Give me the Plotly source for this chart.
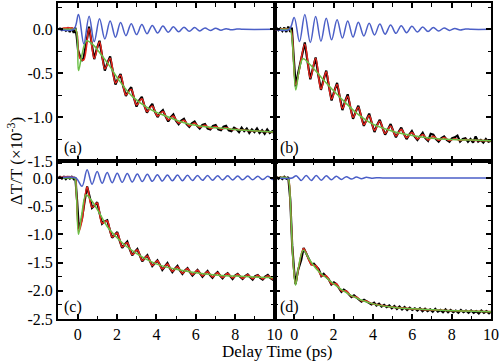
import plotly.graph_objects as go

SERIF = "Liberation Serif, Times New Roman, serif"
C_BLUE = "#4b5fc7"
C_RED = "#e8261e"
C_GREEN = "#6abf45"

# ---------------- panel (a) ----------------
t_green_a = [-1.0, -0.3, -0.1, 0.04, 0.2, 0.45, 0.8, 1.1, 1.6, 2.1, 2.8, 3.6, 4.5, 5.5, 6.5, 7.5, 8.5, 10.0]
green_a = [0.0, 0.0, 0.0, -0.47, -0.31, -0.13, -0.18, -0.26, -0.41, -0.58, -0.77, -0.90, -0.99, -1.07, -1.11, -1.13, -1.15, -1.17]

t_blue_a = [-1.0, -0.2, 0.04, 0.31, 0.58, 0.84, 1.11, 1.38, 1.65, 1.92, 2.18, 2.45, 2.72, 2.99, 3.26, 3.52,
            3.79, 4.06, 4.33, 4.60, 4.86, 5.13, 5.40, 5.67, 5.94, 6.20, 6.47, 6.74, 7.01, 7.28, 7.54, 7.81,
            8.08, 8.4, 10.0]
blue_a = [0.0, 0.0, 0.17, -0.165, 0.15, -0.14, 0.12, -0.11, 0.095, -0.09, 0.078, -0.072, 0.065, -0.06, 0.054, -0.05,
          0.045, -0.042, 0.037, -0.034, 0.03, -0.028, 0.025, -0.023, 0.02, -0.018, 0.016, -0.014, 0.012, -0.01, 0.008, -0.006,
          0.004, 0.0, 0.0]

t_red_a = [-1.0, -0.12, 0.02, 0.12, 0.30, 0.58, 0.84, 1.11, 1.38, 1.65, 1.92, 2.18, 2.45, 2.72, 2.99, 3.26, 3.52,
           3.79, 4.06, 4.33, 4.60, 4.86, 5.13, 5.40, 5.67, 5.94, 6.20, 6.47, 6.74, 7.01, 7.28, 7.54, 7.81, 8.08, 8.5, 10.0]
red_a = [0.0, 0.0, -0.22, -0.33, -0.35, 0.01, -0.33, -0.145, -0.45, -0.33, -0.61, -0.524, -0.747, -0.683, -0.861, -0.791, -0.937,
         -0.874, -0.988, -0.936, -1.032, -0.989, -1.068, -1.037, -1.10, -1.068, -1.116, -1.093, -1.129, -1.108, -1.136, -1.123,
         -1.142, -1.138, -1.15, -1.17]

t_black_a = [-1.0, -0.9, -0.8, -0.7, -0.6, -0.5, -0.4, -0.3, -0.2, -0.12,
             -0.05, 0.02, 0.12, 0.21, 0.30, 0.44, 0.58, 0.71, 0.84, 0.975,
             1.11, 1.245, 1.38, 1.515, 1.65, 1.785, 1.92, 2.05, 2.18, 2.315,
             2.45, 2.585, 2.72, 2.855, 2.99, 3.125, 3.26, 3.39, 3.52, 3.655,
             3.79, 3.925, 4.06, 4.195, 4.33, 4.465, 4.60, 4.73, 4.86, 4.995,
             5.13, 5.265, 5.40, 5.535, 5.67, 5.805, 5.94, 6.07, 6.20, 6.335,
             6.47, 6.605, 6.74, 6.875, 7.01, 7.145, 7.28, 7.41, 7.54, 7.675,
             7.81, 7.945, 8.08, 8.2, 8.33, 8.46, 8.59, 8.72, 8.85, 8.98,
             9.11, 9.24, 9.37, 9.5, 9.63, 9.76, 9.89, 10.0]
black_a = [0.0, 0.01, -0.01, 0.005, -0.015, 0.01, -0.03, 0.015, -0.04, 0.02,
           -0.08, -0.24, -0.31, -0.36, -0.33, -0.16, 0.03, -0.16, -0.34, -0.22,
           -0.13, -0.31, -0.47, -0.38, -0.31, -0.48, -0.63, -0.56, -0.51, -0.65,
           -0.76, -0.70, -0.66, -0.78, -0.88, -0.81, -0.77, -0.87, -0.95, -0.89,
           -0.85, -0.94, -1.00, -0.95, -0.92, -0.99, -1.05, -1.00, -0.97, -1.04,
           -1.08, -1.04, -1.02, -1.08, -1.11, -1.07, -1.05, -1.10, -1.13, -1.09,
           -1.08, -1.13, -1.14, -1.10, -1.09, -1.14, -1.15, -1.11, -1.10, -1.15,
           -1.16, -1.12, -1.14, -1.17, -1.12, -1.16, -1.13, -1.18, -1.14, -1.17,
           -1.13, -1.18, -1.15, -1.19, -1.14, -1.18, -1.16, -1.19]

# ---------------- panel (b) ----------------
t_green_b = [-1.0, -0.3, -0.2, 0.08, 0.25, 0.45, 0.8, 1.5, 2.4, 3.2, 4.0, 5.0, 6.0, 7.0, 8.0, 9.0, 10.0]
green_b = [0.0, 0.0, 0.0, -0.69, -0.47, -0.335, -0.40, -0.58, -0.79, -0.96, -1.08, -1.16, -1.21, -1.24, -1.255, -1.262, -1.268]

t_blue_b = [-1.0, -0.25, 0.00, 0.27, 0.54, 0.82, 1.09, 1.36, 1.63, 1.90, 2.18, 2.45, 2.72, 2.99, 3.26, 3.54, 3.81,
            4.08, 4.35, 4.62, 4.90, 5.17, 5.44, 5.71, 5.98, 6.26, 6.53, 6.80, 7.07, 7.34, 7.62, 7.89, 8.16, 8.43,
            8.70, 9.0, 10.0]
blue_b = [0.0, 0.0, 0.135, -0.14, 0.17, -0.15, 0.145, -0.135, 0.125, -0.12, 0.11, -0.10, 0.095, -0.088, 0.082, -0.076, 0.07,
          -0.065, 0.06, -0.055, 0.05, -0.046, 0.042, -0.038, 0.034, -0.031, 0.028, -0.025, 0.022, -0.019, 0.016, -0.013, 0.01, -0.007,
          0.004, 0.0, 0.0]

t_red_b = [-1.0, -0.25, -0.15, 0.08, 0.54, 0.82, 1.09, 1.36, 1.63, 1.90, 2.18, 2.45, 2.72, 2.99, 3.26, 3.54, 3.81,
           4.08, 4.35, 4.62, 4.90, 5.17, 5.44, 5.71, 5.98, 6.26, 6.53, 6.80, 7.07, 7.34, 7.62, 7.89, 8.16, 8.43,
           8.70, 9.0, 10.0]
red_b = [0.0, 0.0, -0.02, -0.63, -0.17, -0.555, -0.33, -0.679, -0.485, -0.793, -0.629, -0.901, -0.763, -1.003, -0.887, -1.087, -0.982,
         -1.151, -1.048, -1.185, -1.102, -1.215, -1.14, -1.234, -1.175, -1.249, -1.198, -1.259, -1.219, -1.264, -1.233, -1.266, -1.246, -1.265,
         -1.256, -1.262, -1.268]

t_black_b = [-1.0, -0.9, -0.8, -0.7, -0.6, -0.5, -0.4, -0.3, -0.2, -0.12,
             -0.03, 0.08, 0.2, 0.31, 0.42, 0.54, 0.68, 0.82, 0.955, 1.09,
             1.225, 1.36, 1.495, 1.63, 1.765, 1.90, 2.04, 2.18, 2.315, 2.45,
             2.585, 2.72, 2.855, 2.99, 3.125, 3.26, 3.40, 3.54, 3.675, 3.81,
             3.945, 4.08, 4.215, 4.35, 4.485, 4.62, 4.76, 4.90, 5.035, 5.17,
             5.305, 5.44, 5.575, 5.71, 5.845, 5.98, 6.12, 6.26, 6.395, 6.53,
             6.665, 6.80, 6.935, 7.07, 7.205, 7.34, 7.48, 7.62, 7.755, 7.89,
             8.025, 8.16, 8.295, 8.43, 8.565, 8.70, 8.83, 8.96, 9.09, 9.22,
             9.35, 9.48, 9.61, 9.74, 9.87, 10.0]
black_b = [0.0, 0.015, -0.01, 0.01, -0.02, 0.02, -0.03, 0.03, -0.03, 0.02,
           -0.30, -0.65, -0.50, -0.38, -0.26, -0.15, -0.37, -0.57, -0.44, -0.32,
           -0.52, -0.69, -0.57, -0.47, -0.65, -0.81, -0.70, -0.61, -0.77, -0.92,
           -0.82, -0.74, -0.89, -1.02, -0.94, -0.87, -0.99, -1.10, -1.03, -0.96,
           -1.07, -1.17, -1.09, -1.03, -1.12, -1.20, -1.14, -1.08, -1.16, -1.23,
           -1.17, -1.12, -1.19, -1.25, -1.20, -1.16, -1.22, -1.26, -1.22, -1.18,
           -1.24, -1.27, -1.19, -1.20, -1.25, -1.28, -1.24, -1.22, -1.26, -1.28,
           -1.24, -1.23, -1.21, -1.28, -1.25, -1.24, -1.28, -1.25, -1.29, -1.22,
           -1.28, -1.26, -1.29, -1.25, -1.28, -1.27]

# ---------------- panel (c) ----------------
t_green_c = [-1.0, -0.3, -0.15, -0.07, 0.04, 0.2, 0.42, 0.7, 1.1, 1.5, 2.0, 2.5, 3.0, 3.6, 4.2, 5.0, 6.0, 7.0, 8.0, 9.0, 10.0]
green_c = [0.0, 0.0, 0.0, -0.25, -1.0, -0.66, -0.30, -0.40, -0.62, -0.86, -1.06, -1.22, -1.34, -1.46, -1.55, -1.62, -1.68, -1.72, -1.74, -1.755, -1.765]

t_blue_c = [-1.0, -0.1, 0.22, 0.48, 0.73, 0.99, 1.24, 1.50, 1.75, 2.01, 2.26, 2.52, 2.77, 3.03, 3.28, 3.54, 3.79,
            4.05, 4.30, 4.56, 4.81, 5.07, 5.32, 5.58, 5.83, 6.09, 6.34, 6.60, 6.85, 7.11, 7.36, 7.62, 7.87, 8.13,
            8.38, 8.64, 8.89, 9.15, 9.40, 9.66, 9.91, 10.0]
blue_c = [0.0, 0.0, -0.146, 0.147, -0.11, 0.115, -0.095, 0.097, -0.085, 0.085, -0.078, 0.077, -0.071, 0.07, -0.065, 0.063, -0.06,
          0.058, -0.055, 0.054, -0.052, 0.05, -0.049, 0.047, -0.046, 0.045, -0.043, 0.042, -0.041, 0.04, -0.038, 0.037, -0.036, 0.035,
          -0.034, 0.033, -0.032, 0.031, -0.03, 0.029, -0.028, -0.02]

t_red_c = [-1.0, -0.15, -0.07, 0.06, 0.22, 0.48, 0.73, 0.99, 1.24, 1.50, 1.75, 2.01, 2.26, 2.52, 2.77, 3.03, 3.28,
           3.54, 3.79, 4.05, 4.30, 4.56, 4.81, 5.07, 5.32, 5.58, 5.83, 6.09, 6.34, 6.60, 6.85, 7.11, 7.36, 7.62,
           7.87, 8.13, 8.38, 8.64, 8.89, 9.15, 9.40, 9.66, 9.91, 10.0]
red_c = [0.0, 0.0, -0.25, -0.95, -0.75, -0.163, -0.52, -0.445, -0.80, -0.763, -1.045, -0.978, -1.221, -1.148, -1.356, -1.276, -1.461,
         -1.385, -1.549, -1.47, -1.614, -1.527, -1.655, -1.574, -1.688, -1.608, -1.716, -1.639, -1.737, -1.662, -1.755, -1.682, -1.765, -1.695,
         -1.773, -1.707, -1.78, -1.717, -1.785, -1.725, -1.789, -1.733, -1.792, -1.785]

t_black_c = [-1.0, -0.9, -0.8, -0.7, -0.6, -0.5, -0.4, -0.3, -0.2, -0.12,
             -0.03, 0.06, 0.14, 0.22, 0.35, 0.48, 0.605, 0.73, 0.86, 0.99,
             1.115, 1.24, 1.37, 1.50, 1.625, 1.75, 1.88, 2.01, 2.135, 2.26,
             2.39, 2.52, 2.645, 2.77, 2.90, 3.03, 3.155, 3.28, 3.41, 3.54,
             3.665, 3.79, 3.92, 4.05, 4.175, 4.30, 4.43, 4.56, 4.685, 4.81,
             4.94, 5.07, 5.195, 5.32, 5.45, 5.58, 5.705, 5.83, 5.96, 6.09,
             6.215, 6.34, 6.47, 6.60, 6.725, 6.85, 6.98, 7.11, 7.235, 7.36,
             7.49, 7.62, 7.745, 7.87, 8.0, 8.13, 8.255, 8.38, 8.51, 8.64,
             8.765, 8.89, 9.02, 9.15, 9.275, 9.40, 9.53, 9.66, 9.785, 9.91,
             10.0]
black_c = [0.0, 0.02, -0.01, 0.02, -0.02, 0.015, -0.01, 0.02, -0.02, 0.01,
           -0.40, -0.90, -0.82, -0.72, -0.42, -0.15, -0.33, -0.53, -0.49, -0.43,
           -0.63, -0.81, -0.77, -0.75, -0.91, -1.06, -1.01, -0.96, -1.11, -1.24,
           -1.18, -1.13, -1.26, -1.37, -1.31, -1.26, -1.37, -1.48, -1.42, -1.37,
           -1.47, -1.56, -1.51, -1.46, -1.54, -1.63, -1.57, -1.51, -1.60, -1.67,
           -1.61, -1.56, -1.64, -1.70, -1.64, -1.60, -1.67, -1.73, -1.68, -1.63,
           -1.69, -1.75, -1.70, -1.65, -1.72, -1.77, -1.71, -1.67, -1.73, -1.78,
           -1.72, -1.69, -1.74, -1.79, -1.73, -1.70, -1.75, -1.79, -1.74, -1.71,
           -1.76, -1.80, -1.74, -1.72, -1.77, -1.80, -1.75, -1.72, -1.77, -1.80,
           -1.77]

# ---------------- panel (d) ----------------
t_green_d = [-1.0, -0.35, -0.27, -0.2, -0.13, -0.05, 0.07, 0.2, 0.46, 0.8, 1.2, 1.7, 2.5, 3.3, 4.2, 5.0, 6.0, 7.5, 10.0]
green_d = [0.0, 0.0, -0.05, -0.40, -0.95, -1.50, -1.90, -1.62, -1.28, -1.46, -1.64, -1.79, -2.00, -2.15, -2.25, -2.29, -2.32, -2.345, -2.37]

t_blue_d = [-1.0, -0.1, 0.10, 0.36, 0.61, 0.87, 1.12, 1.38, 1.63, 1.89, 2.14, 2.40, 2.65, 2.91, 3.16, 3.42, 3.67,
            3.93, 4.18, 4.5, 10.0]
blue_d = [0.0, 0.0, 0.04, -0.045, 0.045, -0.044, 0.042, -0.04, 0.037, -0.034, 0.03, -0.027, 0.023, -0.02, 0.016, -0.013, 0.01,
          -0.007, 0.004, 0.0, 0.0]

t_red_d = [-1.0, -0.35, -0.27, -0.2, -0.13, -0.05, 0.07, 0.2, 0.48, 0.87, 1.12, 1.38, 1.63, 1.89, 2.14, 2.40, 2.65,
           2.91, 3.16, 3.42, 3.67, 3.93, 4.18, 5.0, 6.0, 7.5, 10.0]
red_d = [0.0, 0.0, -0.05, -0.40, -0.95, -1.50, -1.88, -1.64, -1.25, -1.535, -1.56, -1.734, -1.732, -1.874, -1.875, -2.001, -2.005,
         -2.097, -2.108, -2.176, -2.181, -2.227, -2.244, -2.29, -2.32, -2.345, -2.37]

t_black_d = [-1.0, -0.9, -0.8, -0.7, -0.6, -0.5, -0.4, -0.3, -0.2, -0.1,
             0.0, 0.07, 0.2, 0.36, 0.48, 0.61, 0.74, 0.87, 1.0, 1.12,
             1.25, 1.38, 1.5, 1.63, 1.76, 1.89, 2.02, 2.14, 2.27, 2.40,
             2.52, 2.65, 2.78, 2.91, 3.04, 3.16, 3.29, 3.42, 3.55, 3.67,
             3.80, 3.93, 4.06, 4.18, 4.31, 4.44, 4.57, 4.70, 4.83, 4.96,
             5.09, 5.22, 5.35, 5.48, 5.61, 5.74, 5.87, 6.0, 6.13, 6.26,
             6.39, 6.52, 6.65, 6.78, 6.91, 7.04, 7.17, 7.30, 7.43, 7.56,
             7.69, 7.82, 7.95, 8.08, 8.21, 8.34, 8.47, 8.60, 8.73, 8.86,
             8.99, 9.12, 9.25, 9.38, 9.51, 9.64, 9.77, 9.90, 10.0]
black_d = [0.0, 0.02, -0.015, 0.01, -0.02, 0.02, -0.01, 0.015, -0.38, -1.20,
           -1.66, -1.88, -1.63, -1.45, -1.24, -1.33, -1.42, -1.53, -1.52, -1.57,
           -1.62, -1.74, -1.70, -1.75, -1.80, -1.89, -1.85, -1.88, -1.95, -2.02,
           -1.98, -2.01, -2.06, -2.11, -2.08, -2.12, -2.15, -2.19, -2.16, -2.19,
           -2.22, -2.24, -2.21, -2.26, -2.23, -2.28, -2.25, -2.29, -2.26, -2.31,
           -2.27, -2.32, -2.28, -2.33, -2.29, -2.34, -2.30, -2.34, -2.31, -2.35,
           -2.31, -2.36, -2.32, -2.36, -2.33, -2.37, -2.32, -2.37, -2.34, -2.38,
           -2.33, -2.38, -2.34, -2.38, -2.35, -2.39, -2.34, -2.38, -2.35, -2.39,
           -2.35, -2.39, -2.36, -2.40, -2.35, -2.39, -2.36, -2.40, -2.37]

# ---------------- ticks / labels ----------------
x_tickvals = [0, 2, 4, 6, 8, 10]
x_ticktext = ["0", "2", "4", "6", "8", "10"]
x_minorvals = [-1, 1, 3, 5, 7, 9]
y_top_tickvals = [0.0, -0.5, -1.0, -1.5]
y_top_ticktext = ["0.0", "-0.5", "-1.0", "-1.5"]
y_top_minor = [0.25, -0.25, -0.75, -1.25]
y_bot_tickvals = [0.0, -0.5, -1.0, -1.5, -2.0, -2.5]
y_bot_ticktext = ["0.0", "-0.5", "-1.0", "-1.5", "-2.0", "-2.5"]
y_bot_minor = [0.25, -0.25, -0.75, -1.25, -1.75, -2.25]
panel_labels = ["(a)", "(b)", "(c)", "(d)"]

panels = [
    ("x", "y", t_black_a, black_a, t_red_a, red_a, t_green_a, green_a, t_blue_a, blue_a),
    ("x2", "y2", t_black_b, black_b, t_red_b, red_b, t_green_b, green_b, t_blue_b, blue_b),
    ("x3", "y3", t_black_c, black_c, t_red_c, red_c, t_green_c, green_c, t_blue_c, blue_c),
    ("x4", "y4", t_black_d, black_d, t_red_d, red_d, t_green_d, green_d, t_blue_d, blue_d),
]

fig = go.Figure()
for xa, ya, tk, k, tr, r, tg, g, tb, b in panels:
    common = dict(xaxis=xa, yaxis=ya, mode="lines", showlegend=False, hoverinfo="skip")
    fig.add_trace(go.Scatter(x=tk, y=k, line=dict(color="black", width=2.2), **common))
    fig.add_trace(go.Scatter(x=tr, y=r, line=dict(color=C_RED, width=1.6, shape="spline"), **common))
    fig.add_trace(go.Scatter(x=tg, y=g, line=dict(color=C_GREEN, width=1.5, shape="spline"), **common))
    fig.add_trace(go.Scatter(x=tb, y=b, line=dict(color=C_BLUE, width=1.5, shape="spline"), **common))

tickfont = dict(family=SERIF, size=16, color="black")
ax_common = dict(showline=True, linewidth=2, linecolor="black", mirror="ticks",
                 ticks="inside", ticklen=5, tickwidth=1.5, tickcolor="black",
                 showgrid=False, zeroline=False, tickfont=tickfont)

def xax(domain, anchor, labels):
    return dict(ax_common, domain=domain, anchor=anchor, range=[-1, 10],
                tickmode="array", tickvals=x_tickvals, ticktext=x_ticktext,
                showticklabels=labels,
                minor=dict(tickmode="array", tickvals=x_minorvals, ticks="inside",
                           ticklen=3.5, tickwidth=1.2, tickcolor="black"))

def yax(domain, anchor, rng, tv, tt, mv, labels):
    return dict(ax_common, domain=domain, anchor=anchor, range=rng,
                tickmode="array", tickvals=tv, ticktext=tt, showticklabels=labels,
                minor=dict(tickmode="array", tickvals=mv, ticks="inside",
                           ticklen=3.5, tickwidth=1.2, tickcolor="black"))

fig.update_layout(
    width=500, height=363,
    margin=dict(l=58, r=8, t=1, b=44),
    paper_bgcolor="white", plot_bgcolor="white",
    font=dict(family=SERIF, color="black"),
    xaxis=xax([0, 0.5], "y", False),
    xaxis2=xax([0.5, 1], "y2", False),
    xaxis3=xax([0, 0.5], "y3", True),
    xaxis4=xax([0.5, 1], "y4", True),
    yaxis=yax([0.5, 1], "x", [-1.5, 0.3], y_top_tickvals, y_top_ticktext, y_top_minor, True),
    yaxis2=yax([0.5, 1], "x2", [-1.5, 0.3], y_top_tickvals, y_top_ticktext, y_top_minor, False),
    yaxis3=yax([0, 0.5], "x3", [-2.5, 0.3], y_bot_tickvals, y_bot_ticktext, y_bot_minor, True),
    yaxis4=yax([0, 0.5], "x4", [-2.5, 0.3], y_bot_tickvals, y_bot_ticktext, y_bot_minor, False),
)

annotations = [
    dict(text="ΔT/T (×10<sup>-3</sup>)", xref="paper", yref="paper", x=-0.099, y=0.5,
         textangle=-90, showarrow=False, xanchor="center", yanchor="middle",
         font=dict(family=SERIF, size=17, color="black")),
    dict(text="Delay Time (ps)", xref="paper", yref="paper", x=0.507, y=-0.104,
         showarrow=False, xanchor="center", yanchor="middle",
         font=dict(family=SERIF, size=17, color="black")),
]
label_pos = [("x", "y", -1.35), ("x2", "y2", -1.35), ("x3", "y3", -2.285), ("x4", "y4", -2.285)]
for lab, (xa, ya, yv) in zip(panel_labels, label_pos):
    annotations.append(dict(text=lab, xref=xa, yref=ya, x=-0.8, y=yv, showarrow=False,
                            xanchor="left", yanchor="middle",
                            font=dict(family=SERIF, size=16, color="black")))
fig.update_layout(annotations=annotations)

fig.write_html("out.html", config={"displayModeBar": False},
               post_script="document.body.style.margin='0';document.body.style.overflow='hidden';")
